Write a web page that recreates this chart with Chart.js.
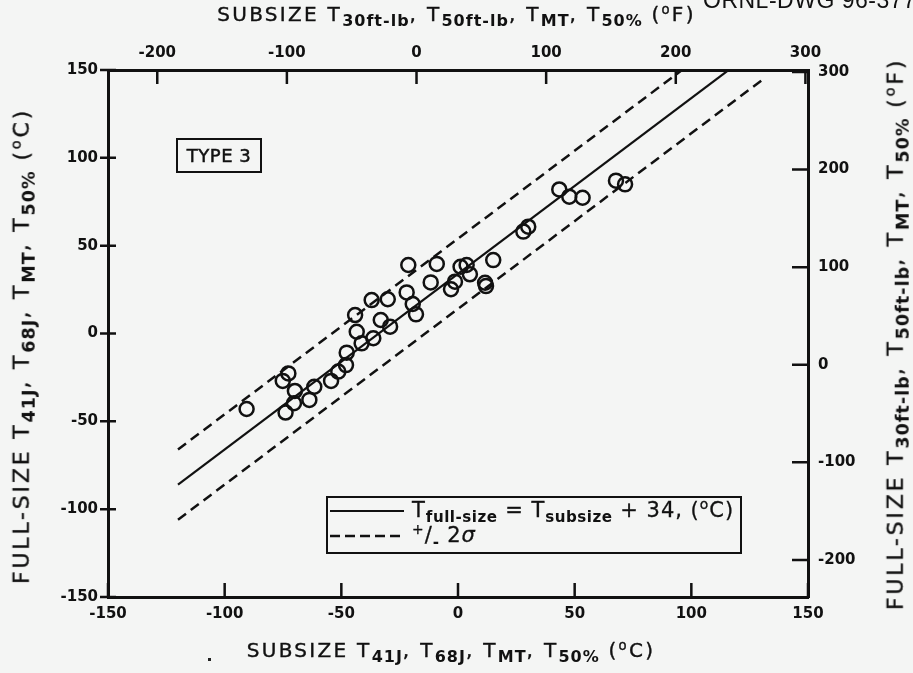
<!DOCTYPE html>
<html>
<head>
<meta charset="utf-8">
<script src="https://cdn.jsdelivr.net/npm/chart.js@4.4.1/dist/chart.umd.min.js"></script>
<style>
  html, body { margin: 0; padding: 0; background: #f4f5f4; }
  #wrap { position: relative; width: 913px; height: 673px; overflow: hidden;
          font-family: "DejaVu Sans", sans-serif; color: #111; }
  canvas { position: absolute; left: 0; top: 0; }
  .lbl { position: absolute; white-space: nowrap; font-size: 20px; letter-spacing: 2.3px;
         -webkit-text-stroke: 0.4px #111; }
  .lbl.rot { font-size: 22px; letter-spacing: 2.8px; }
  .s { font-size: 0.8em; vertical-align: -0.32em; font-weight: bold; letter-spacing: 1px;
       -webkit-text-stroke: 0; }
  .u { font-size: 0.66em; vertical-align: 0.55em; }
  .rot { transform: translate(-50%, -50%) rotate(-90deg); }
  #type3 { position: absolute; left: 176px; top: 138px; width: 82px; height: 31px;
           border: 2.5px solid #111; font-size: 18px; letter-spacing: 0.5px;
           -webkit-text-stroke: 0.5px #111;
           line-height: 31px; text-align: center; }
  #legend { position: absolute; left: 326px; top: 496px; width: 412px; height: 54px;
            border: 2.5px solid #111; font-size: 21px; -webkit-text-stroke: 0.3px #111; }
  #legend .row { position: absolute; left: 0; height: 24px; white-space: nowrap; }
  #legend svg { position: absolute; left: 2px; top: 6px; }
  #legend .txt { position: absolute; left: 84px; top: -4px; letter-spacing: 1px; }
  #legend .s { font-size: 0.72em; vertical-align: -0.38em; letter-spacing: 0.5px; }
  #dwg { position: absolute; left: 703px; top: -13px; font-family: "Liberation Sans", sans-serif;
         font-size: 23px; white-space: nowrap; letter-spacing: 0.5px; }
  #speck { position: absolute; left: 208px; top: 658px; width: 3px; height: 3px; background: #222; }
</style>
</head>
<body>
<div id="wrap">
  <canvas id="chart" width="913" height="673"></canvas>

  <div id="dwg">ORNL-DWG 96-3772</div>
  <div id="speck"></div>

  <div class="lbl" style="left:0;width:913px;text-align:center;top:2px;">
    SUBSIZE T<span class="s">30ft-lb</span>, T<span class="s">50ft-lb</span>, T<span class="s">MT</span>, T<span class="s">50%</span> (<span class="u">o</span>F)
  </div>
  <div class="lbl" style="left:0;width:902px;text-align:center;top:638px;">
    SUBSIZE T<span class="s">41J</span>, T<span class="s">68J</span>, T<span class="s">MT</span>, T<span class="s">50%</span> (<span class="u">o</span>C)
  </div>
  <div class="lbl rot" style="left:23px;top:346px;">
    FULL-SIZE T<span class="s">41J</span>, T<span class="s">68J</span>, T<span class="s">MT</span>, T<span class="s">50%</span> (<span class="u">o</span>C)
  </div>
  <div class="lbl rot" style="left:897px;top:334px;">
    FULL-SIZE T<span class="s">30ft-lb</span>, T<span class="s">50ft-lb</span>, T<span class="s">MT</span>, T<span class="s">50%</span> (<span class="u">o</span>F)
  </div>

  <div id="type3">TYPE 3</div>

  <div id="legend">
    <div class="row" style="top:2px;">
      <svg width="76" height="10"><line x1="0" y1="5" x2="74" y2="5" stroke="#111" stroke-width="2.2"/></svg>
      <span class="txt">T<span class="s">full-size</span> = T<span class="s">subsize</span> + 34, (<span class="u">o</span>C)</span>
    </div>
    <div class="row" style="top:27px;">
      <svg width="76" height="10"><line x1="0" y1="5" x2="74" y2="5" stroke="#111" stroke-width="2.5" stroke-dasharray="10,5"/></svg>
      <span class="txt"><span class="u">+</span>/<span class="s">-</span> 2<i>σ</i></span>
    </div>
  </div>
</div>

<script>
// subsize vs full-size transition temperatures (deg C)
const subX  = [-90.6, -73.9, -72.7, -75.1, -69.9, -70.3, -63.7, -61.6, -54.4, -51.3,
               -48.0, -47.7, -43.4, -41.3, -44.1, -36.3, -33.1, -29.1, -37.0, -30.1,
               -22.0, -19.4, -18.0, -21.3, -11.7,  -9.1,  -3.0,  -1.3,   1.1,   3.7,
                 5.1,  11.6,  12.0,  15.1,  28.0,  30.1,  43.4,  47.7,  53.4,  67.7,  71.6];
const fullY = [-43.0, -45.0, -22.7, -27.0, -32.7, -39.7, -37.8, -30.3, -27.0, -21.7,
               -18.0, -10.9,   1.0,  -5.6,  10.5,  -2.7,   7.7,   3.9,  19.0,  19.5,
                23.4,  16.8,  10.9,  39.0,  29.1,  39.6,  25.2,  29.5,  38.0,  39.0,
                33.7,  28.9,  27.0,  41.8,  58.0,  60.8,  82.0,  77.9,  77.3,  87.0,  84.9];

// fit line and +/- 2 sigma band end points
const fitX   = [-120, 130];
const fitY   = [-86, 164];
const upperY = [-66, 184];
const lowerY = [-106, 144];

// tick values
const cTicks = [-150, -100, -50, 0, 50, 100, 150];
const fTicks = [-200, -100, 0, 100, 200, 300];
const fMin = -238, fMax = 302;   // -150 C and 150 C in F

const ink = '#111';
const tickFont = { family: 'DejaVu Sans', size: 15, weight: 'bold' };

function pairs(xs, ys) {
  return xs.map((x, i) => ({ x: x, y: ys[i] }));
}

// inward tick marks like the original drawing
const inwardTicks = {
  id: 'inwardTicks',
  afterDraw(chart) {
    const { ctx, chartArea: a, scales } = chart;
    ctx.save();
    ctx.strokeStyle = ink;
    ctx.lineWidth = 2.5;
    ctx.beginPath();
    cTicks.forEach(v => {
      const px = scales.x.getPixelForValue(v);
      ctx.moveTo(px, a.bottom); ctx.lineTo(px, a.bottom - 14);
      const py = scales.y.getPixelForValue(v);
      ctx.moveTo(a.left - 8, py); ctx.lineTo(a.left + 8, py);
    });
    fTicks.forEach(v => {
      const px = scales.x2.getPixelForValue(v);
      ctx.moveTo(px, a.top); ctx.lineTo(px, a.top + 14);
      const py = scales.y2.getPixelForValue(v);
      ctx.moveTo(a.right, py); ctx.lineTo(a.right - 16, py);
    });
    ctx.stroke();
    ctx.restore();
  }
};

function axis(opts) {
  return Object.assign({
    type: 'linear',
    grid: { display: true, drawOnChartArea: false, drawTicks: false },
    border: { display: true, width: 3, color: ink },
    ticks: { color: ink, font: tickFont, autoSkip: false, maxRotation: 0 }
  }, opts);
}

new Chart(document.getElementById('chart'), {
  type: 'scatter',
  data: {
    datasets: [
      {
        label: 'data',
        data: pairs(subX, fullY),
        pointStyle: 'circle',
        pointRadius: 7,
        pointHoverRadius: 7,
        borderWidth: 2.5,
        borderColor: ink,
        backgroundColor: 'rgba(0,0,0,0)'
      },
      {
        label: 'fit',
        data: pairs(fitX, fitY),
        showLine: true,
        pointRadius: 0,
        borderColor: ink,
        borderWidth: 2.2,
        clip: 1
      },
      {
        label: 'upper',
        data: pairs(fitX, upperY),
        showLine: true,
        pointRadius: 0,
        borderColor: ink,
        borderWidth: 2.5,
        borderDash: [10, 6],
        clip: 1
      },
      {
        label: 'lower',
        data: pairs(fitX, lowerY),
        showLine: true,
        pointRadius: 0,
        borderColor: ink,
        borderWidth: 2.5,
        borderDash: [10, 6],
        clip: 1
      }
    ]
  },
  options: {
    responsive: false,
    animation: false,
    devicePixelRatio: 1,
    layout: { padding: 0 },
    plugins: { legend: { display: false }, tooltip: { enabled: false } },
    scales: {
      x: axis({
        position: 'bottom', min: -150, max: 150,
        ticks: { color: ink, font: tickFont, stepSize: 50, padding: 8, autoSkip: false, maxRotation: 0 },
        afterFit: s => { s.height = 76; }
      }),
      y: axis({
        position: 'left', min: -150, max: 150,
        ticks: { color: ink, font: tickFont, stepSize: 50, padding: 10, autoSkip: false },
        afterFit: s => { s.width = 108; }
      }),
      x2: axis({
        position: 'top', min: fMin, max: fMax,
        ticks: { color: ink, font: tickFont, padding: 8, autoSkip: false, maxRotation: 0 },
        afterBuildTicks: s => { s.ticks = fTicks.map(v => ({ value: v })); },
        afterFit: s => { s.height = 70; }
      }),
      y2: axis({
        position: 'right', min: fMin, max: fMax,
        ticks: { color: ink, font: tickFont, padding: 10, autoSkip: false },
        afterBuildTicks: s => { s.ticks = fTicks.map(v => ({ value: v })); },
        afterFit: s => { s.width = 105; }
      })
    }
  },
  plugins: [inwardTicks]
});
</script>
</body>
</html>
